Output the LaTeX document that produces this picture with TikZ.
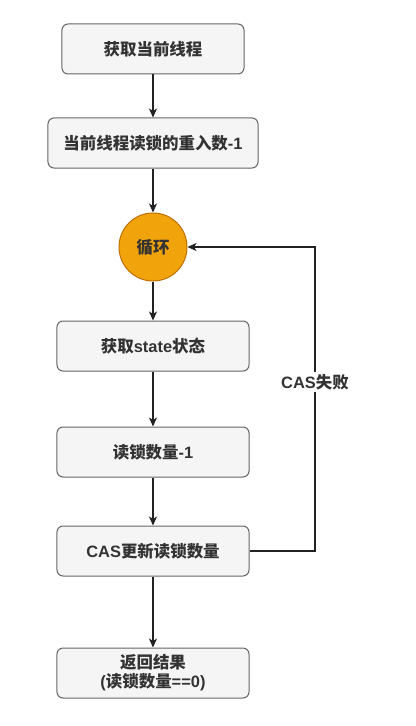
\documentclass[tikz,border=0pt]{standalone}
\usepackage{fontspec}
\setmainfont{Noto Sans CJK SC}
\newfontfamily\latinfont{Liberation Sans}
\usepackage{tikz}
\usetikzlibrary{arrows.meta}
\usepackage{xcolor}
\definecolor{FlowFill}{HTML}{F5F5F5}
\definecolor{FlowLine}{HTML}{666666}
\definecolor{FlowText}{HTML}{333333}
\definecolor{LoopFill}{HTML}{F0A30A}
\definecolor{LoopLine}{HTML}{BD7000}
\definecolor{ArrowInk}{HTML}{222222}
\newcommand{\lat}[1]{{\latinfont\bfseries #1}}

\begin{document}
\begin{tikzpicture}[x=1bp,y=-1bp,>={Stealth[length=9bp,width=8bp,inset=2.5bp]},
    stepbox/.style={draw=FlowLine,fill=FlowFill,rounded corners=6bp,line width=1bp,
      minimum height=50bp,minimum width=192bp,inner sep=0pt,align=center,
      text=FlowText,font=\fontsize{16.5}{19}\selectfont\bfseries},
    loopnode/.style={circle,draw=LoopLine,fill=LoopFill,line width=1bp,
      minimum size=68bp,inner sep=0pt,text=FlowText,
      font=\fontsize{16.5}{19}\selectfont\bfseries},
    flow/.style={->,ArrowInk,line width=1.3bp}]
  \useasboundingbox[fill=white] (0,0) rectangle (415,726);
  % main column
  \node[stepbox,minimum width=182bp] (thread) at (153,49) {获取当前线程};
  \node[stepbox,minimum width=210bp] (reentry) at (153,143) {当前线程读锁的重入数\lat{-1}};
  \node[loopnode] (loop) at (153,247) {循环};
  \node[stepbox] (state) at (153,346) {获取\lat{state}状态};
  \node[stepbox] (dec) at (153,452) {读锁数量\lat{-1}};
  \node[stepbox] (cas) at (153,551) {\lat{CAS}更新读锁数量};
  \node[stepbox] (result) at (153,673) {返回结果\\\lat{(}读锁数量\lat{==0)}};
  \draw[flow] (thread) -- (reentry);
  \draw[flow] (reentry) -- (loop);
  \draw[flow] (loop) -- (state);
  \draw[flow] (state) -- (dec);
  \draw[flow] (dec) -- (cas);
  \draw[flow] (cas) -- (result);
  % retry path
  \coordinate (turn) at (315,551);
  \draw[flow] (cas.east) -- (turn) -- (turn |- loop.east) -- (loop.east);
  \node[fill=white,text=FlowText,inner sep=2bp,
    font=\fontsize{16.5}{19}\selectfont\bfseries] (fail) at (315,382) {\lat{CAS}失败};
\end{tikzpicture}
\end{document}
